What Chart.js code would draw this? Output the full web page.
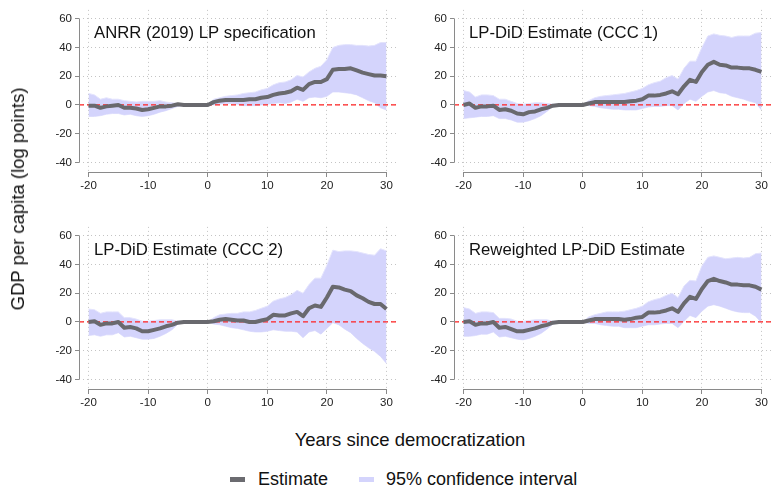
<!DOCTYPE html>
<html>
<head>
<meta charset="utf-8">
<script src="https://cdn.jsdelivr.net/npm/chart.js@4.4.1/dist/chart.umd.min.js"></script>
<style>
  body { margin:0; background:#fff; font-family:"Liberation Sans", Arial, sans-serif; }
  #wrap { position:relative; width:771px; height:488px; overflow:hidden; }
  .panel { position:absolute; }
  .ylab { position:absolute; left:18px; top:199px; transform:translate(-50%,-50%) rotate(-90deg);
          font-size:18.5px; color:#111; white-space:nowrap; }
  .xlab { position:absolute; left:410px; top:440px; transform:translate(-50%,-50%);
          font-size:18.5px; color:#111; white-space:nowrap; }
  .legend { position:absolute; left:230px; top:469px; font-size:18px; color:#111; white-space:nowrap; }
  .sw { display:inline-block; width:15px; height:5px; vertical-align:middle; margin-right:13px; position:relative; top:-1px; }
</style>
</head>
<body>
<div id="wrap">
  <canvas id="c1" class="panel" style="left:0;top:0"></canvas>
  <canvas id="c2" class="panel" style="left:375px;top:0"></canvas>
  <canvas id="c3" class="panel" style="left:0;top:217px"></canvas>
  <canvas id="c4" class="panel" style="left:375px;top:217px"></canvas>
  <div class="ylab">GDP per capita (log points)</div>
  <div class="xlab">Years since democratization</div>
  <div class="legend"><span class="sw" style="background:#6b6b70"></span>Estimate<span style="display:inline-block;width:31px"></span><span class="sw" style="background:#d4d4fc;margin-right:12px"></span>95% confidence interval</div>
</div>
<script>
// years since democratization, -20 .. 30
const years = [-20,-19,-18,-17,-16,-15,-14,-13,-12,-11,-10,-9,-8,-7,-6,-5,-4,-3,-2,-1,
  0,1,2,3,4,5,6,7,8,9,10,11,12,13,14,15,16,17,18,19,20,21,22,23,24,25,26,27,28,29,30]
const xTicks = [-20,-10,0,10,20,30]
const yTicks = [-40,-20,0,20,40,60]

// ANRR (2019) LP specification
const est1 = [-0.5,-0.5,-2,-1,-0.5,0,-2,-2,-2.5,-3.5,-3,-2,-1,-1,-0.5,0.5,0,0,0,0,
  0,2,3,3.5,3.5,3.5,3.5,4,4,5,5.5,7,8,8.5,9.5,12,10.5,14.5,16,16,18,24.5,25,25,25.5,24,22.5,21.5,20.5,20.5,20]
const hi1 = [8,7,4,5,4,4,3,2.5,2,2.5,2.5,2.5,3,2,1.5,1,0.5,0.5,0.5,0.5,
  0,4,5,6,6.5,7,8,8.5,9,10.5,11.5,14,15.5,16,17.5,20.5,19.5,23,25.5,27,31.5,40,41.5,42,42,41.5,41.5,41,41.5,43.5,43.5]
const lo1 = [-8,-8,-7.5,-6.5,-6,-6,-7,-6.5,-7.5,-8,-7.5,-6.5,-5,-4,-2.5,-1,-0.5,-0.5,-0.5,-0.5,
  0,0,0.5,1,1,0.5,-0.5,-0.5,-0.5,0,0.5,1,1.5,1,2,4,2.5,5,5.5,5,6,9,9,8.5,8,7,5,3,1.5,-2,-3.5]

// LP-DiD Estimate (CCC 1)
const est2 = [0,1,-2,-1,-1,-0.5,-3.5,-3,-4,-6,-6.5,-5,-4.5,-3,-2,-0.5,0,0,0,0,
  0,1,2,2,2,2,2,2,2.5,3,4,6.5,6.5,7,8,9.5,7.5,13,17.5,16,23,28,30,28,27.5,26,26,25.5,25.5,24.5,23]
const hi2 = [10,9,5.5,7,7,6.5,4,4,2.5,1,0.5,1,1.5,1.5,1,0.5,0.5,0.5,0.5,0.5,
  0,3,5,6,6.5,7,7.5,8,9,10,11.5,14,15.5,16.5,19,20.5,18,25.5,30.5,30.5,40,48,49.5,48.5,48,47,48,48,48,50,50.5]
const lo2 = [-9.5,-9,-8.5,-8,-8,-7.5,-9.5,-9.5,-10.5,-12,-12,-11,-9.5,-7.5,-4.5,-1,-0.5,-0.5,-0.5,-0.5,
  0,-0.5,-1,-2,-2.5,-3,-3,-3.5,-3.5,-3.5,-2.5,-1.5,-1,-1,-0.5,-0.5,-3.5,1,4,2.5,6,9,10,8.5,8,6,5,4,2.5,1.5,-3.5]

// LP-DiD Estimate (CCC 2)
const est3 = [0,0.5,-2,-1,-1,0,-4,-3.5,-4.5,-6.5,-6.5,-5.5,-4.5,-3,-2,-0.5,0,0,0,0,
  0,0.5,1.5,2,1.5,1,1,0,0,1,2,5,4.5,4.5,6,7,4,9.5,11.5,10.5,17,24.5,24,22.5,21.5,18.5,16.5,14,12.5,12.5,9]
const hi3 = [9,8.5,6,7,7,7,3,3,2,0.5,0.5,1,1.5,1.5,1.5,0.5,0.5,0.5,0.5,0.5,
  0,3,5,5.5,6,6,7,7,8,9.5,11,14.5,16,17,19,22,20,26,30.5,30.5,39.5,50,49,49.5,49.5,49,48,47,46.5,51,49.5]
const lo3 = [-9.5,-9,-10,-9,-9,-7.5,-10.5,-10,-11,-12,-12,-11.5,-10,-8,-5.5,-1.5,-0.5,-0.5,-0.5,-0.5,
  0,-1.5,-2,-3,-4,-4.5,-5.5,-6.5,-7,-7,-6.5,-5.5,-6,-6.5,-6.5,-7,-11,-7,-6,-8.5,-4.5,-0.5,-2,-5,-7.5,-11.5,-15,-18,-20.5,-24,-29]

// Reweighted LP-DiD Estimate
const est4 = [0,0.5,-2,-1,-1,0,-4,-3.5,-5,-6.5,-6.5,-5.5,-4.5,-3,-2,-0.5,0,0,0,0,
  0,1,2,2,2,2,2,1.5,2,3,3.5,6.5,6.5,7,8,9.5,7,13,17.5,16,23,28.5,30,28.5,27.5,26,26,25.5,25.5,24.5,22.5]
const hi4 = [10,9,6,7,7,6.5,2.5,2.5,2,0.5,0.5,1,1.5,1.5,1.5,0.5,0.5,0.5,0.5,0.5,
  0,3.5,5,6,7,7,7,7.5,8.5,9.5,11,14,15.5,16.5,18.5,20,17,25,29,28.5,39,45,46,45,44,44.5,45,44.5,45,47.5,48]
const lo4 = [-10,-10,-9.5,-8.5,-8.5,-7,-10.5,-10,-11,-12,-12.5,-11.5,-10,-8,-5,-1.5,-0.5,-0.5,-0.5,-0.5,
  0,-1,-1,-2,-2.5,-3,-3,-4,-4,-4,-3,-2,-2,-1.5,-1,-1,-4,0.5,4.5,3,7.5,11,12,11,9.5,8,7,6.5,6.5,4,-0.5]

const titles = ['ANRR (2019) LP specification','LP-DiD Estimate (CCC 1)','LP-DiD Estimate (CCC 2)','Reweighted LP-DiD Estimate']
const FONT = '"Liberation Sans", Arial, sans-serif'

// red dashed zero line, drawn right after the CI band
const zeroLine = {
  id: 'zeroLine',
  afterDatasetDraw(chart, args) {
    if (args.index !== 1) return
    const {ctx, chartArea} = chart
    const y = chart.scales.y.getPixelForValue(0)
    ctx.save()
    ctx.strokeStyle = '#ff2020'
    ctx.lineWidth = 1.2
    ctx.setLineDash([5, 3])
    ctx.beginPath()
    ctx.moveTo(chartArea.left, y)
    ctx.lineTo(chartArea.right, y)
    ctx.stroke()
    ctx.restore()
  }
}

// stata-like axis lines that only span the tick range, plus panel title
const axesAndTitle = {
  id: 'axesAndTitle',
  afterDraw(chart, args, opts) {
    const {ctx, chartArea} = chart
    const xs = chart.scales.x, ys = chart.scales.y
    ctx.save()
    ctx.strokeStyle = '#8a8a8a'
    ctx.lineWidth = 1
    ctx.beginPath()
    ctx.moveTo(xs.getPixelForValue(-20), chartArea.bottom + 0.5)
    ctx.lineTo(xs.getPixelForValue(30), chartArea.bottom + 0.5)
    ctx.moveTo(chartArea.left + 0.5, ys.getPixelForValue(60))
    ctx.lineTo(chartArea.left + 0.5, ys.getPixelForValue(-40))
    ctx.stroke()
    ctx.fillStyle = '#111'
    ctx.font = '16.7px ' + FONT
    ctx.textBaseline = 'middle'
    ctx.fillText(opts.text, chartArea.left + 15, ys.getPixelForValue(60) + 15)
    ctx.restore()
  }
}

function panel(id, title, est, lo, hi, wide) {
  const el = document.getElementById(id)
  el.width = wide ? 396 : 400
  el.height = 200
  el.style.width = el.width + 'px'
  el.style.height = '200px'
  new Chart(el.getContext('2d'), {
    type: 'line',
    data: {
      labels: years,
      datasets: [
        {data: lo, borderColor: '#e4e4fd', borderWidth: 1, pointRadius: 0, fill: false, order: 3, tension: 0},
        {data: hi, borderColor: '#e4e4fd', borderWidth: 1, pointRadius: 0, fill: '-1', backgroundColor: '#d4d4fc', order: 2, tension: 0},
        {data: est, borderColor: '#69696e', borderWidth: 4, pointRadius: 0, fill: false, order: 1, tension: 0, borderJoinStyle: 'round'}
      ].map(d => Object.assign(d, {parsing: false, data: d.data.map((v, i) => ({x: years[i], y: v}))}))
    },
    options: {
      responsive: false,
      animation: false,
      layout: {padding: {top: 4, right: wide ? 0 : 4, left: 0, bottom: 0}},
      plugins: {legend: {display: false}, tooltip: {enabled: false}, axesAndTitle: {text: title}},
      scales: {
        x: {
          type: 'linear', min: -21.6, max: 31.6,
          afterBuildTicks: s => { s.ticks = xTicks.map(v => ({value: v})) },
          afterFit: s => { s.height = 28 },
          grid: {color: '#c4c4c4', lineWidth: 1, drawTicks: true, tickLength: 5, tickColor: '#8a8a8a', tickBorderDash: []},
          border: {display: false, dash: [1, 3]},
          ticks: {color: '#222', font: {family: FONT, size: 11.5}, padding: 2, maxRotation: 0}
        },
        y: {
          type: 'linear', min: -46.7, max: 66.2,
          afterBuildTicks: s => { s.ticks = yTicks.map(v => ({value: v})) },
          afterFit: s => { s.width = 79 },
          grid: {color: '#c4c4c4', lineWidth: 1, drawTicks: true, tickLength: 4, tickColor: '#8a8a8a', tickBorderDash: []},
          border: {display: false, dash: [1, 3]},
          ticks: {color: '#222', font: {family: FONT, size: 11.5}, padding: 3}
        }
      }
    },
    plugins: [zeroLine, axesAndTitle]
  })
}

panel('c1', titles[0], est1, lo1, hi1, false)
panel('c2', titles[1], est2, lo2, hi2, true)
panel('c3', titles[2], est3, lo3, hi3, false)
panel('c4', titles[3], est4, lo4, hi4, true)
</script>
</body>
</html>
